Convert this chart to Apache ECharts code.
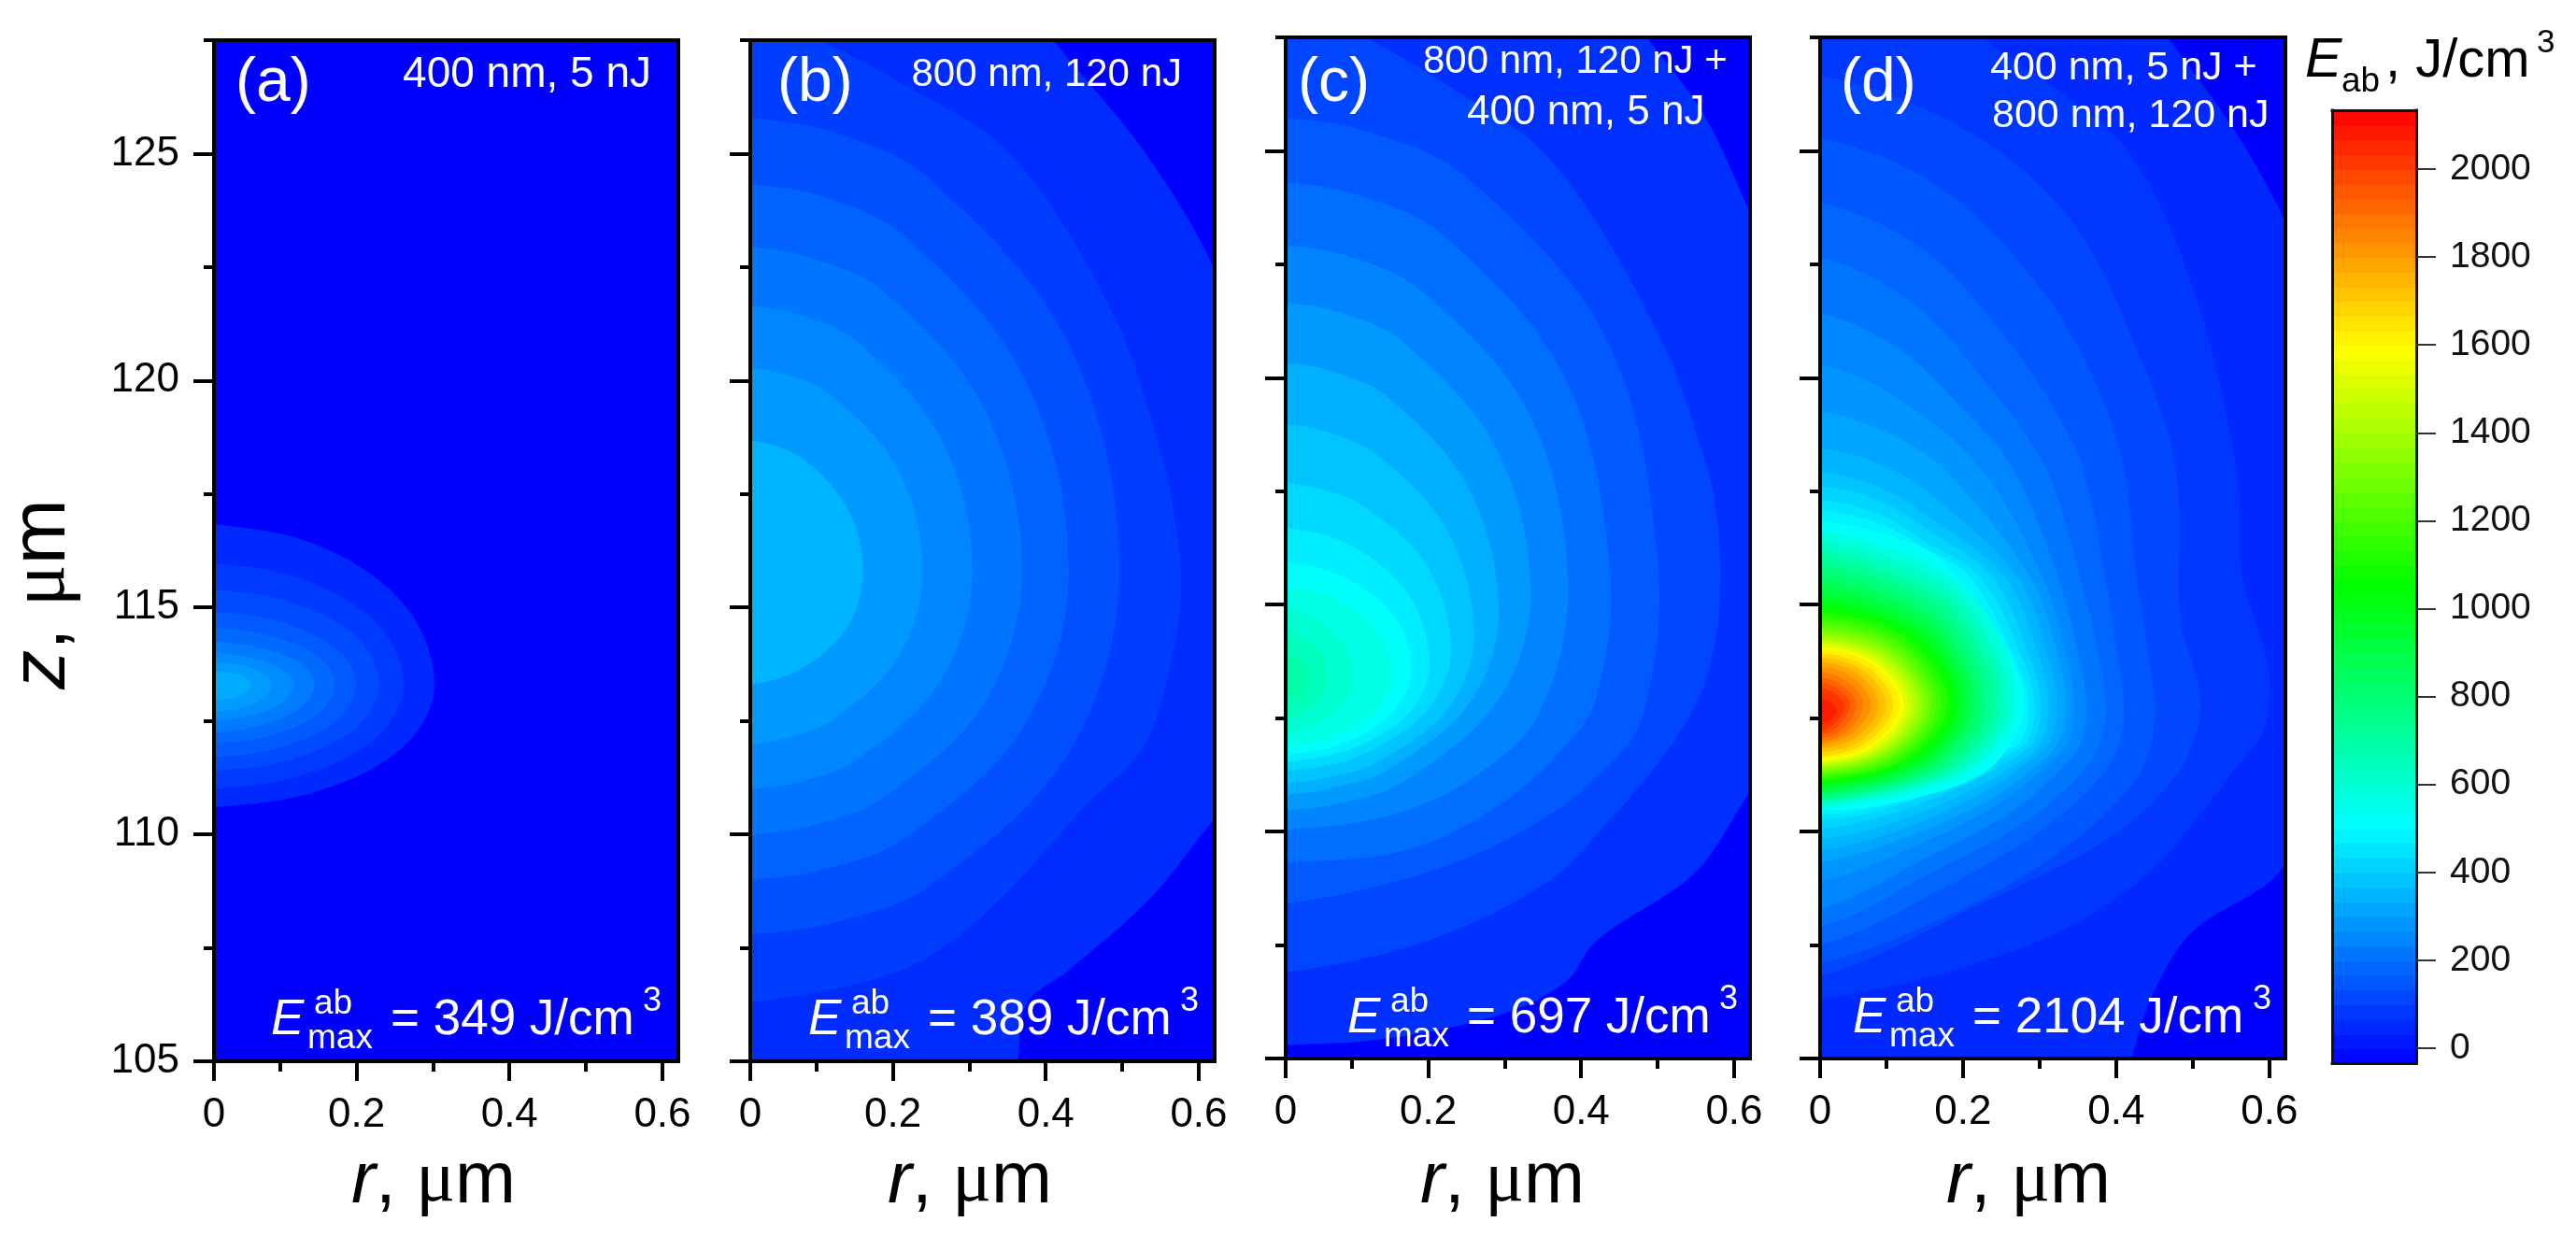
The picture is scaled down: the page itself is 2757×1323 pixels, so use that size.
<!doctype html>
<html>
  <head>
    <meta charset="UTF-8" />
    <title>Absorbed energy density maps</title>
    <script src="https://cdn.jsdelivr.net/npm/echarts/dist/echarts.min.js"></script>
    <style>
      html, body { margin: 0; background: #fff; }
      #main { width: 2757px; height: 1323px; }
    </style>
  </head>
  <body>
    <div id="main"></div>
    <script>
      // axis values
      const rMin = 0.0137, rMax = 0.6208, zMin = 105, zMax = 127.5;
      const rMajor = [0.0137, 0.2, 0.4, 0.6];
      const rMinor = [0.1, 0.3, 0.5];
      const zMajor = [105, 110, 115, 120, 125];
      const zMinor = [107.5, 112.5, 117.5, 122.5, 127.5];
      const barTicks = [0, 200, 400, 600, 800, 1000, 1200, 1400, 1600, 1800, 2000];
      const barMin = -34, barMax = 2134;

      // colour bar band edges, J/cm3
      const barEdges = [-34, 0, 33, 67, 100, 133, 167, 200, 233, 267, 300, 333, 367, 400, 433, 467, 500,
        533, 567, 600, 633, 667, 700, 733, 767, 800, 833, 867, 900, 933, 967, 1000, 1033, 1067, 1100,
        1133, 1167, 1200, 1233, 1267, 1300, 1333, 1367, 1400, 1433, 1467, 1500, 1533, 1567, 1600, 1633,
        1667, 1700, 1733, 1767, 1800, 1833, 1867, 1900, 1933, 1967, 2000, 2033, 2067, 2100, 2134];

      // colour scale of the bar: value, [r, g, b]
      const jetStops = [[-34, [0, 0, 255]], [508, [0, 255, 255]], [1050, [0, 255, 0]], [1592, [255, 255, 0]], [2134, [255, 0, 0]]];

      // peak values, J/cm3
      const peaks = [349, 389, 697, 2104];

      // contours: [level, [[r, z], ...]], outermost first
      const contoursA = [
        [35, [[.0137,116.83],[.151,116.36],[.262,115.07],[.302,113.3],[.262,111.95],[.151,110.96],[.0137,110.6]]],
        [70, [[.0137,115.97],[.131,115.61],[.227,114.64],[.262,113.3],[.227,112.15],[.131,111.31],[.0137,111]]],
        [105, [[.0137,115.39],[.115,115.11],[.2,114.35],[.23,113.3],[.2,112.35],[.115,111.65],[.0137,111.4]]],
        [140, [[.0137,114.9],[.1,114.69],[.173,114.1],[.2,113.3],[.173,112.5],[.1,111.91],[.0137,111.7]]],
        [175, [[.0137,114.55],[.086,114.38],[.149,113.93],[.172,113.3],[.149,112.65],[.086,112.17],[.0137,112]]],
        [209, [[.0137,114.25],[.072,114.12],[.126,113.78],[.145,113.3],[.126,112.78],[.072,112.39],[.0137,112.25]]],
        [244, [[.0137,114],[.06,113.9],[.102,113.65],[.118,113.3],[.102,112.9],[.06,112.61],[.0137,112.5]]],
        [279, [[.0137,113.8],[.05,113.73],[.078,113.55],[.09,113.3],[.078,113],[.05,112.78],[.0137,112.7]]],
        [314, [[.0137,113.6],[.04,113.55],[.055,113.45],[.062,113.3],[.055,113.13],[.04,113.02],[.0137,112.95]]],
      ];

      const contoursB = [
        [39, [[.37,128.5],[.41,127.5],[.528,125.06],[.622,122.4],[.72,118],[.72,112],[.625,110.42],[.537,108.6],[.429,106.99],[.375,106.27],[.364,105],[.36,104]]],
        [78, [[.0137,128.2],[.104,127.5],[.206,126.6],[.353,125],[.487,121.5],[.549,118.5],[.57,116.8],[.577,115.4],[.565,113.9],[.53,112],[.45,110.6],[.32,108.25],[.21,107],[.0137,106.3]]],
        [117, [[.0137,125.78],[.124,125.46],[.248,124.44],[.43,120.8],[.496,115.8],[.43,111.8],[.248,108.87],[.124,108.06],[.0137,107.8]]],
        [156, [[.0137,124.32],[.108,124.05],[.215,123.18],[.372,120.06],[.43,115.8],[.372,112.4],[.215,109.91],[.108,109.22],[.0137,109]]],
        [195, [[.0137,122.94],[.092,122.71],[.185,122],[.32,119.37],[.369,115.8],[.32,112.9],[.185,110.78],[.092,110.19],[.0137,110]]],
        [233, [[.0137,121.65],[.076,121.46],[.152,120.87],[.263,118.72],[.304,115.8],[.263,113.4],[.152,111.64],[.076,111.15],[.0137,111]]],
        [272, [[.0137,120.27],[.06,120.13],[.12,119.67],[.207,118.03],[.239,115.8],[.207,113.9],[.12,112.51],[.06,112.12],[.0137,112]]],
        [311, [[.0137,118.68],[.08,118.3],[.14,117.2],[.161,115.8],[.14,114.55],[.08,113.65],[.0137,113.3]]],
      ];

      const contoursC = [
        [45, [[.44,128.5],[.481,127.6],[.56,125.8],[.622,123.6],[.72,120],[.72,113],[.622,110.9],[.549,109.1],[.42,107.6],[.38,106.7],[.3,106],[.15,105.45],[.0137,105.3]]],
        [90, [[.0137,128.5],[.119,127.5],[.22,126.5],[.36,124.8],[.5,121],[.565,118],[.578,116.8],[.582,115.5],[.575,114.2],[.553,112.9],[.5,111.5],[.438,110.27],[.357,108.9],[.2,107.6],[.0137,106.9]]],
        [135, [[.0137,125.72],[.125,125.41],[.25,124.42],[.433,120.86],[.5,116],[.48,112.53],[.419,111.17],[.337,110.14],[.214,109.18],[.0137,108.4]]],
        [180, [[.0137,124.3],[.11,124.02],[.219,123.15],[.379,120],[.438,115.7],[.419,112.9],[.377,111.85],[.296,110.62],[.174,109.6],[.0137,109.32]]],
        [225, [[.0137,122.92],[.096,122.68],[.19,121.93],[.332,119.21],[.383,115.5],[.345,112.6],[.26,111.2],[.15,110.35],[.0137,110.04]]],
        [270, [[.0137,121.65],[.084,121.44],[.167,120.79],[.289,118.43],[.334,115.2],[.289,112.84],[.167,111.1],[.084,110.62],[.0137,110.47]]],
        [315, [[.0137,120.33],[.073,120.15],[.146,119.59],[.253,117.57],[.292,114.8],[.253,112.81],[.146,111.35],[.073,110.95],[.0137,110.82]]],
        [360, [[.0137,118.97],[.065,118.82],[.13,118.34],[.225,116.64],[.26,114.3],[.225,112.69],[.13,111.5],[.065,111.18],[.0137,111.07]]],
        [405, [[.0137,117.67],[.058,117.55],[.115,117.18],[.199,115.84],[.23,114],[.199,112.67],[.115,111.7],[.058,111.43],[.0137,111.34]]],
        [450, [[.0137,116.69],[.101,116.29],[.175,115.2],[.202,113.7],[.175,112.62],[.101,111.83],[.0137,111.54]]],
        [495, [[.0137,115.93],[.089,115.62],[.154,114.77],[.178,113.6],[.154,112.65],[.089,111.95],[.0137,111.7]]],
        [540, [[.0137,115.39],[.077,115.14],[.133,114.45],[.153,113.5],[.133,112.7],[.077,112.11],[.0137,111.9]]],
        [585, [[.0137,114.9],[.051,114.7],[.088,114.15],[.102,113.4],[.088,112.8],[.051,112.36],[.0137,112.2]]],
        [630, [[.0137,114.42],[.034,114.28],[.059,113.91],[.068,113.4],[.059,112.95],[.034,112.62],[.0137,112.5]]],
        [675, [[.0137,113.91],[.03,113.8],[.04,113.65],[.045,113.4],[.04,113.15],[.03,112.95],[.0137,112.85]]],
      ];

      const contoursD = [
        [33, [[.42,128.5],[.467,127.5],[.56,125.3],[.622,123.4],[.72,120],[.72,112],[.616,109.18],[.591,108.77],[.5,107.8],[.45,106.5],[.42,105],[.41,104]]],
        [67, [[.15,128.5],[.225,127.5],[.327,126.3],[.42,124.9],[.5,122],[.557,118],[.565,115.6],[.59,114.2],[.6,113.35],[.594,112.3],[.561,111.5],[.508,110.35],[.45,109.2],[.35,108],[.2,107],[.0137,106.3]]],
        [100, [[.0137,126.67],[.2,125.5],[.34,123.5],[.43,120.5],[.478,118],[.484,114.6],[.5,113.7],[.51,112.9],[.505,112.2],[.476,111.17],[.386,109.8],[.223,108.4],[.0137,106.8]]],
        [133, [[.0137,125.29],[.17,124.2],[.3,122],[.37,120],[.41,118],[.427,115.6],[.443,113.8],[.451,112.8],[.445,111.9],[.42,111],[.33,109.6],[.2,108.3],[.0137,107.1]]],
        [167, [[.0137,123.87],[.15,122.8],[.26,120.8],[.33,119],[.357,118],[.386,115.6],[.403,113.8],[.41,112.8],[.405,112],[.38,111.2],[.3,110],[.18,108.8],[.0137,107.5]]],
        [200, [[.0137,122.65],[.13,121.7],[.23,119.9],[.308,118],[.353,115.6],[.378,113.8],[.386,112.8],[.38,112],[.355,111.3],[.28,110.2],[.16,109.1],[.0137,107.9]]],
        [233, [[.0137,121.42],[.12,120.6],[.2,119.3],[.265,118],[.324,115.6],[.352,113.8],[.361,112.8],[.355,112],[.33,111.4],[.26,110.4],[.15,109.4],[.0137,108.3]]],
        [267, [[.0137,120.29],[.11,119.6],[.223,118],[.304,115.6],[.336,113.8],[.345,112.8],[.338,112],[.312,111.5],[.245,110.6],[.14,109.7],[.0137,108.91]]],
        [300, [[.0137,119.26],[.1,118.8],[.174,118],[.288,115.6],[.325,113.8],[.335,112.8],[.326,112],[.3,111.5],[.235,110.7],[.13,109.9],[.0137,109.32]]],
        [333, [[.0137,118.44],[.09,118.1],[.16,117.4],[.271,115.6],[.312,113.8],[.323,112.8],[.314,112],[.29,111.6],[.225,110.85],[.12,110.05],[.0137,109.59]]],
        [367, [[.0137,117.92],[.09,117.6],[.16,116.9],[.255,115.6],[.3,113.8],[.312,112.8],[.303,112],[.28,111.6],[.215,110.95],[.11,110.2],[.0137,109.83]]],
        [400, [[.0137,117.61],[.09,117.3],[.15,116.7],[.239,115.6],[.288,113.8],[.302,112.8],[.293,112],[.27,111.65],[.205,111.05],[.1,110.35],[.0137,110.06]]],
        [433, [[.0137,117.3],[.09,117],[.15,116.4],[.223,115.6],[.278,113.8],[.294,112.8],[.284,112],[.26,111.7],[.195,111.15],[.1,110.5],[.0137,110.25]]],
        [467, [[.0137,117.1],[.09,116.8],[.145,116.3],[.21,115.6],[.268,113.8],[.286,112.8],[.276,112],[.25,111.75],[.19,111.2],[.1,110.6],[.0137,110.37]]],
        [500, [[.0137,116.85],[.153,116.2],[.206,115.3],[.243,114.45],[.272,113.5],[.279,113],[.278,112.53],[.259,111.85],[.222,111.23],[.141,110.75],[.059,110.5],[.0137,110.47]]],
        [550, [[.0137,116.65],[.188,115.57],[.256,114],[.269,112.8],[.256,112.12],[.188,111.16],[.0137,110.52]]],
        [600, [[.0137,116.44],[.181,115.42],[.246,113.89],[.259,112.8],[.246,112.13],[.181,111.2],[.0137,110.58]]],
        [650, [[.0137,116.25],[.175,115.28],[.238,113.84],[.25,112.8],[.238,112.15],[.175,111.24],[.0137,110.63]]],
        [700, [[.0137,116.07],[.169,115.15],[.229,113.78],[.241,112.8],[.229,112.16],[.169,111.27],[.0137,110.68]]],
        [750, [[.0137,115.9],[.162,115.03],[.219,113.73],[.231,112.8],[.219,112.18],[.162,111.31],[.0137,110.73]]],
        [800, [[.0137,115.72],[.155,114.9],[.211,113.68],[.222,112.8],[.211,112.19],[.155,111.35],[.0137,110.78]]],
        [850, [[.0137,115.55],[.15,114.78],[.203,113.63],[.214,112.8],[.203,112.21],[.15,111.38],[.0137,110.83]]],
        [900, [[.0137,115.38],[.144,114.66],[.196,113.57],[.206,112.8],[.196,112.23],[.144,111.42],[.0137,110.89]]],
        [950, [[.0137,115.22],[.139,114.54],[.189,113.53],[.199,112.8],[.189,112.25],[.139,111.47],[.0137,110.95]]],
        [1000, [[.0137,115.07],[.134,114.43],[.182,113.48],[.192,112.8],[.182,112.27],[.134,111.52],[.0137,111.02]]],
        [1050, [[.0137,114.95],[.13,114.35],[.186,112.8],[.13,111.55],[.0137,111.07]]],
        [1100, [[.0137,114.83],[.126,114.26],[.18,112.8],[.126,111.6],[.0137,111.13]]],
        [1150, [[.0137,114.73],[.12,114.19],[.172,112.8],[.12,111.63],[.0137,111.18]]],
        [1200, [[.0137,114.63],[.116,114.12],[.165,112.8],[.116,111.67],[.0137,111.23]]],
        [1250, [[.0137,114.54],[.111,114.05],[.159,112.8],[.111,111.71],[.0137,111.28]]],
        [1300, [[.0137,114.45],[.107,113.99],[.153,112.8],[.107,111.74],[.0137,111.33]]],
        [1350, [[.0137,114.36],[.103,113.92],[.147,112.8],[.103,111.78],[.0137,111.38]]],
        [1400, [[.0137,114.28],[.099,113.87],[.141,112.8],[.099,111.81],[.0137,111.42]]],
        [1450, [[.0137,114.21],[.095,113.82],[.135,112.8],[.095,111.84],[.0137,111.46]]],
        [1500, [[.0137,114.15],[.09,113.77],[.129,112.8],[.09,111.86],[.0137,111.5]]],
        [1550, [[.0137,114.08],[.086,113.72],[.123,112.8],[.086,111.9],[.0137,111.55]]],
        [1600, [[.0137,114.02],[.083,113.68],[.118,112.8],[.083,111.93],[.0137,111.59]]],
        [1650, [[.0137,113.93],[.076,113.61],[.109,112.8],[.076,111.98],[.0137,111.66]]],
        [1700, [[.0137,113.84],[.07,113.55],[.1,112.8],[.07,112.04],[.0137,111.74]]],
        [1750, [[.0137,113.74],[.063,113.48],[.09,112.8],[.063,112.1],[.0137,111.83]]],
        [1800, [[.0137,113.63],[.056,113.4],[.08,112.8],[.056,112.17],[.0137,111.92]]],
        [1850, [[.0137,113.51],[.049,113.31],[.07,112.8],[.049,112.21],[.0137,111.98]]],
        [1900, [[.0137,113.39],[.043,113.22],[.061,112.8],[.043,112.26],[.0137,112.05]]],
        [1950, [[.0137,113.27],[.037,113.14],[.053,112.8],[.037,112.32],[.0137,112.13]]],
        [2000, [[.0137,113.15],[.032,113.05],[.045,112.75],[.032,112.38],[.0137,112.22]]],
        [2050, [[.0137,112.94],[.03,112.8],[.035,112.65],[.03,112.5],[.0137,112.36]]],
      ];

      const FONT = '"Liberation Sans", Arial, sans-serif';
      const SYMBOL_FONT = '"Liberation Serif", serif';

      function jet(v) {
        let i = 0;
        while (i < jetStops.length - 2 && v > jetStops[i + 1][0]) i++;
        const a = jetStops[i], b = jetStops[i + 1];
        const t = Math.max(0, Math.min(1, (v - a[0]) / (b[0] - a[0])));
        const c = a[1].map((x, k) => Math.round(x + (b[1][k] - x) * t));
        return "rgb(" + c.join(",") + ")";
      }

      // pixel frame of each panel
      const frames = [
        { left: 229, top: 43, width: 497, height: 1093 },
        { left: 803, top: 43, width: 497, height: 1093 },
        { left: 1376, top: 40, width: 497, height: 1093 },
        { left: 1948, top: 40, width: 498, height: 1093 },
      ];
      const allContours = [contoursA, contoursB, contoursC, contoursD];

      const grid = [], xAxis = [], yAxis = [], series = [];
      const lineStyle = { color: "#000", width: 4, cap: "square" };

      function plainAxis(extra) {
        return Object.assign({
          type: "value", z: 5, splitLine: { show: false },
          axisLine: { show: true, onZero: false, lineStyle },
          axisTick: { show: false }, axisLabel: { show: false },
        }, extra);
      }

      frames.forEach(function (f, p) {
        // main grid: frame, long ticks, tick labels (margin counts from the axis line)
        const g = grid.length;
        grid.push(Object.assign({ show: true, backgroundColor: "#0000ff", borderWidth: 0 }, f));
        const x0 = xAxis.length, y0 = yAxis.length;
        xAxis.push(plainAxis({
          gridIndex: g, position: "bottom", min: rMin, max: rMax,
          axisTick: { show: true, length: 21, customValues: rMajor, lineStyle: { color: "#000", width: 4 } },
          axisLabel: {
            show: true, customValues: rMajor, margin: 36, fontSize: 44, color: "#000", fontFamily: FONT,
            formatter: (v) => (v < 0.1 ? "0" : String(v)),
          },
        }));
        xAxis.push(plainAxis({ gridIndex: g, position: "top", min: rMin, max: rMax }));
        yAxis.push(plainAxis({
          gridIndex: g, position: "left", min: zMin, max: zMax,
          axisTick: { show: true, length: 22, customValues: zMajor, lineStyle: { color: "#000", width: 4 } },
          axisLabel: {
            show: p === 0, customValues: zMajor, margin: 37, fontSize: 44, color: "#000", fontFamily: FONT,
          },
        }));
        yAxis.push(plainAxis({ gridIndex: g, position: "right", min: zMin, max: zMax }));

        const contours = allContours[p];
        series.push({
          type: "custom", coordinateSystem: "cartesian2d", xAxisIndex: x0, yAxisIndex: y0,
          z: 2, clip: true, silent: true, animation: false,
          data: contours.map((c, i) => [i]),
          renderItem: function (params, api) {
            const i = api.value(0);
            const pts = contours[i][1];
            const top = i + 1 < contours.length ? contours[i + 1][0] : peaks[p];
            const closed = [[-0.1, pts[0][1]]].concat(pts, [[-0.1, pts[pts.length - 1][1]]]);
            return {
              type: "polygon",
              shape: { points: closed.map((q) => api.coord(q)), smooth: 0.35 },
              style: { fill: jet((contours[i][0] + top) / 2) },
            };
          },
        });

        // second grid on the same frame: the short ticks
        const m = grid.length;
        grid.push(Object.assign({ show: false }, f));
        xAxis.push(plainAxis({
          gridIndex: m, position: "bottom", min: rMin, max: rMax,
          axisLine: { show: false, onZero: false },
          axisTick: { show: true, length: 11, customValues: rMinor, lineStyle: { color: "#000", width: 4 } },
        }));
        yAxis.push(plainAxis({
          gridIndex: m, position: "left", min: zMin, max: zMax,
          axisLine: { show: false, onZero: false },
          axisTick: { show: true, length: 11, customValues: zMinor, lineStyle: { color: "#000", width: 4 } },
        }));
      });

      // colour bar
      const barLine = { color: "#111", width: 3, cap: "square" };
      const gBar = grid.length;
      grid.push({ show: false, left: 2496, top: 118, width: 90, height: 1020 });
      const xb = xAxis.length, yb = yAxis.length;
      xAxis.push(plainAxis({ gridIndex: gBar, position: "bottom", min: 0, max: 1, axisLine: { show: true, onZero: false, lineStyle: barLine } }));
      xAxis.push(plainAxis({ gridIndex: gBar, position: "top", min: 0, max: 1, axisLine: { show: true, onZero: false, lineStyle: barLine } }));
      yAxis.push(plainAxis({
        gridIndex: gBar, position: "right", min: barMin, max: barMax,
        axisLine: { show: true, onZero: false, lineStyle: barLine },
        axisTick: { show: true, length: 21, customValues: barTicks, lineStyle: { color: "#333", width: 2 } },
        axisLabel: {
          show: true, customValues: barTicks, margin: 36, fontSize: 39, color: "#111", fontFamily: FONT,
          formatter: (v) => String(v),
        },
      }));
      yAxis.push(plainAxis({ gridIndex: gBar, position: "left", min: barMin, max: barMax, axisLine: { show: true, onZero: false, lineStyle: barLine } }));
      series.push({
        type: "custom", coordinateSystem: "cartesian2d", xAxisIndex: xb, yAxisIndex: yb,
        z: 2, silent: true, animation: false,
        data: barEdges.slice(0, -1).map((e, i) => [e, barEdges[i + 1]]),
        renderItem: function (params, api) {
          const lo = api.coord([0, api.value(0)]);
          const hi = api.coord([1, api.value(1)]);
          return {
            type: "rect",
            shape: { x: lo[0], y: hi[1], width: hi[0] - lo[0], height: lo[1] - hi[1] + 1 },
            style: { fill: jet((api.value(0) + api.value(1)) / 2) },
          };
        },
      });

      // all free text goes through this
      function label(x, y, text, size, opts) {
        opts = opts || {};
        return {
          type: "text", x, y, z: 10, silent: true,
          style: {
            text, fontSize: size, fontFamily: FONT, fontStyle: opts.italic ? "italic" : "normal",
            fill: opts.color || "#fff", align: opts.align || "left", verticalAlign: "middle",
          },
        };
      }

      const texts = [];
      // panel letters and conditions
      ["(a)", "(b)", "(c)", "(d)"].forEach((t, i) => {
        texts.push(label([252, 832, 1389, 1970][i], 90, t, 66));
      });
      texts.push(label(697, 80, "400 nm, 5 nJ", 46, { align: "right" }));
      texts.push(label(1265, 80, "800 nm, 120 nJ", 42, { align: "right" }));
      texts.push(label(1523, 66, "800 nm, 120 nJ +", 42));
      texts.push(label(1570, 121, "400 nm, 5 nJ", 44));
      texts.push(label(2130, 73, "400 nm, 5 nJ +", 43));
      texts.push(label(2132, 124, "800 nm, 120 nJ", 43));

      // peak values
      [[290, 1092], [865, 1092], [1442, 1090], [1983, 1090]].forEach((pos, i) => {
        const x = pos[0], y = pos[1];
        texts.push(label(x, y, "E", 53, { italic: true }));
        texts.push(label(x + 46, y - 17, "ab", 37));
        texts.push(label(x + 39, y + 20, "max", 37));
        texts.push(label(x + 128, y, "= " + peaks[i] + " J/cm", 53));
        texts.push(label(x + (i === 3 ? 428 : 398), y - 20, "3", 36));
      });

      // axis titles
      const titleRich = (size) => ({
        i: { fontSize: size, fontStyle: "italic", fontFamily: FONT, fill: "#000" },
        n: { fontSize: size, fontFamily: FONT, fill: "#000" },
        u: { fontSize: size, fontFamily: SYMBOL_FONT, fill: "#000" },
      });
      [464, 1038, 1608, 2171].forEach((cx) => {
        texts.push({
          type: "text", x: cx, y: 1265, z: 10, silent: true,
          style: { text: "{i|r}{n|, }{u|μ}{n|m}", align: "center", verticalAlign: "middle", rich: titleRich(78) },
        });
      });
      texts.push({
        type: "text", x: 46, y: 636, z: 10, rotation: Math.PI / 2, silent: true,
        style: { text: "{i|z}{n|, }{u|μ}{n|m}", align: "center", verticalAlign: "middle", rich: titleRich(84) },
      });

      // colour bar title
      texts.push(label(2467, 66, "E", 59, { color: "#000", italic: true }));
      texts.push(label(2506, 88, "ab", 37, { color: "#000" }));
      texts.push(label(2553, 66, ", J/cm", 58, { color: "#000" }));
      texts.push(label(2715, 46, "3", 35, { color: "#000" }));

      const myChart = echarts.init(document.getElementById("main"));
      myChart.setOption({
        animation: false,
        backgroundColor: "#fff",
        grid, xAxis, yAxis, series,
        graphic: { elements: texts },
      });
    </script>
  </body>
</html>
